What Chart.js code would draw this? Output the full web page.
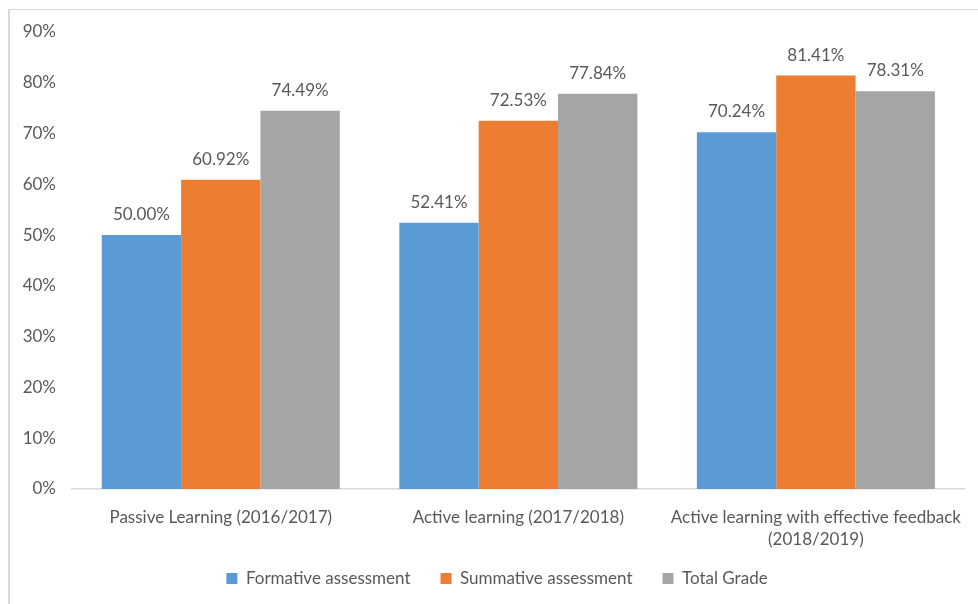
<!DOCTYPE html>
<html>
<head>
<meta charset="utf-8">
<script src="https://cdn.jsdelivr.net/npm/chart.js@4.4.1/dist/chart.umd.min.js"></script>
<style>
  html, body { margin: 0; padding: 0; background: #fff; }
  #wrap { position: relative; width: 978px; height: 604px; overflow: hidden; }
  #frame { position: absolute; left: 8px; top: 9px; width: 1000px; height: 700px; border-left: 2px solid #d9d9d9; border-top: 1px solid #d9d9d9; }
  canvas { position: absolute; left: 0; top: 0; }
</style>
</head>
<body>
<div id="wrap">
  <div id="frame"></div>
  <canvas id="gradeChart" width="978" height="604"></canvas>
</div>
<script>
const categories = [
    'Passive Learning (2016/2017)',
    'Active learning (2017/2018)',
    ['Active learning with effective feedback', '(2018/2019)']
];
const formative = [50.00, 52.41, 70.24];
const summative = [60.92, 72.53, 81.41];
const totalGrade = [74.49, 77.84, 78.31];
const yTicks = [0, 10, 20, 30, 40, 50, 60, 70, 80, 90];

const textColor = '#595959';
const fontFamily = 'Lato, "Open Sans", sans-serif';

const valueLabels = {
    id: 'valueLabels',
    afterDatasetsDraw(chart) {
        const ctx = chart.ctx;
        ctx.save();
        ctx.font = '17px ' + fontFamily;
        ctx.fillStyle = textColor;
        ctx.textAlign = 'center';
        ctx.textBaseline = 'bottom';
        chart.data.datasets.forEach((ds, i) => {
            chart.getDatasetMeta(i).data.forEach((bar, j) => {
                ctx.fillText(ds.data[j].toFixed(2) + '%', bar.x, bar.y - 12);
            });
        });
        ctx.restore();
    }
};

// the legend's padding sets both the gap between items and the space above them;
// keep the wide gaps but pull the row up under the axis labels
const legendNudge = {
    id: 'legendNudge',
    beforeDraw(chart) {
        const lg = chart.legend;
        const pad = lg.options.labels.padding;
        lg.top = chart.scales.x.bottom + 13 - pad;
        lg.bottom = chart.height;
        lg.height = lg.bottom - lg.top;
        lg.left = 12;
        lg.right = chart.width + 4;
    }
};

new Chart(document.getElementById('gradeChart').getContext('2d'), {
    type: 'bar',
    data: {
        labels: categories,
        datasets: [
            { label: 'Formative assessment', data: formative, backgroundColor: '#5b9bd5' },
            { label: 'Summative assessment', data: summative, backgroundColor: '#ed7d31' },
            { label: 'Total Grade', data: totalGrade, backgroundColor: '#a5a5a5' }
        ]
    },
    options: {
        responsive: false,
        animation: false,
        layout: { padding: { top: 32, right: 0, bottom: 8, left: 0 } },
        datasets: { bar: { categoryPercentage: 0.8, barPercentage: 1.0 } },
        scales: {
            x: {
                grid: { display: false, drawTicks: false },
                border: { color: '#d9d9d9', width: 1.5 },
                ticks: { color: textColor, font: { family: fontFamily, size: 17, lineHeight: 1.3 }, padding: 17, maxRotation: 0, autoSkip: false },
                afterFit(scale) { scale.height = 68; }
            },
            y: {
                min: 0,
                max: 90,
                afterBuildTicks(scale) { scale.ticks = yTicks.map(v => ({ value: v })); },
                grid: { display: false, drawTicks: false },
                border: { display: false },
                ticks: {
                    color: textColor,
                    font: { family: fontFamily, size: 17 },
                    padding: 16,
                    callback: v => v + '%'
                },
                afterFit(scale) { scale.width = 72; }
            }
        },
        plugins: {
            legend: {
                position: 'bottom',
                maxHeight: 39,
                labels: { color: textColor, font: { family: fontFamily, size: 17 }, boxWidth: 11, boxHeight: 11, padding: 30 }
            },
            tooltip: { enabled: false }
        }
    },
    plugins: [valueLabels, legendNudge]
});
</script>
</body>
</html>
